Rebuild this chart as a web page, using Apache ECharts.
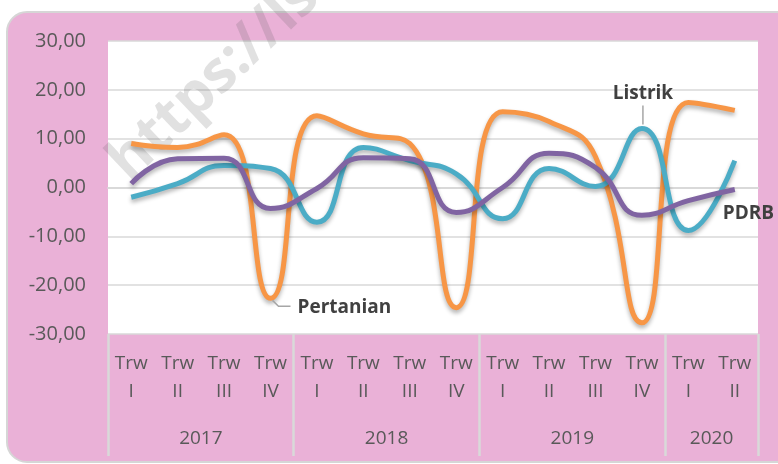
<!DOCTYPE html>
<html>
<head>
<meta charset="utf-8">
<script src="https://cdn.jsdelivr.net/npm/echarts@6/dist/echarts.min.js"></script>
<style>
  html, body { margin: 0; padding: 0; background: #fff; }
  #main { width: 778px; height: 464px; }
</style>
</head>
<body>
<div id="main"></div>
<script>
// data
const quarters = ['I', 'II', 'III', 'IV', 'I', 'II', 'III', 'IV', 'I', 'II', 'III', 'IV', 'I', 'II'];
const years = ['2017', '2018', '2019', '2020'];
const quartersPerYear = [4, 4, 4, 2];
const yTicks = [-30, -20, -10, 0, 10, 20, 30];

const pertanian = [9.0, 8.2, 10.8, -22.7, 14.7, 11.0, 9.0, -24.6, 15.5, 13.5, 6.3, -27.7, 17.4, 15.8];
const listrik = [-2.0, 0.8, 4.5, 3.9, -7.1, 8.2, 5.5, 2.8, -6.4, 3.9, 0.2, 12.1, -8.8, 5.5];
const pdrb = [0.8, 5.9, 6.0, -4.3, -0.2, 6.1, 5.9, -5.1, 0.0, 7.0, 4.1, -5.7, -2.7, -0.4];

const FONT = '"Open Sans", "Noto Sans", sans-serif';
const TEXT = '#595959';
const GRIDLINE = '#d9d9d9';

// year group boundaries and centers on a 0..14 value axis
const yearEdges = [0];
const yearCenters = [];
quartersPerYear.forEach(function (n) {
    const start = yearEdges[yearEdges.length - 1];
    yearCenters.push(start + n / 2);
    yearEdges.push(start + n);
});

const chart = echarts.init(document.getElementById('main'));

function lineSeries(name, data, color) {
    return {
        name: name,
        type: 'line',
        data: data,
        smooth: 0.5,
        showSymbol: false,
        lineStyle: {
            color: color,
            width: 5,
            shadowColor: 'rgba(0,0,0,0.3)',
            shadowBlur: 4,
            shadowOffsetY: 3
        },
        itemStyle: { color: color }
    };
}

const card = {
    type: 'rect',
    z: -10,
    shape: { x: 7, y: 12, width: 790, height: 450, r: 20 },
    style: { fill: '#eab1d7', stroke: '#d6d6d6', lineWidth: 2 }
};

const optionData = {
    animation: false,
    graphic: [card],
    grid: {
        left: 108,
        right: 20,
        top: 41,
        bottom: 130,
        show: true,
        backgroundColor: '#fff',
        borderWidth: 0
    },
    xAxis: [
        {
            type: 'category',
            data: quarters.map(function (q) { return 'Trw\n' + q; }),
            boundaryGap: true,
            axisLine: { lineStyle: { color: GRIDLINE, width: 2 } },
            axisTick: { show: false },
            axisLabel: {
                interval: 0,
                margin: 16,
                fontFamily: FONT,
                fontSize: 19,
                lineHeight: 28,
                color: TEXT
            }
        },
        {
            type: 'value',
            position: 'bottom',
            min: 0,
            max: quarters.length,
            axisLine: { show: false },
            splitLine: { show: false },
            axisTick: {
                show: true,
                length: 122,
                customValues: yearEdges,
                lineStyle: { color: GRIDLINE, width: 2.5 }
            },
            axisLabel: {
                margin: 95,
                customValues: yearCenters,
                fontFamily: FONT,
                fontSize: 19,
                color: TEXT,
                formatter: function (v) {
                    return years[yearCenters.indexOf(v)];
                }
            }
        }
    ],
    yAxis: {
        type: 'value',
        min: yTicks[0],
        max: yTicks[yTicks.length - 1],
        interval: 10,
        axisLine: { show: false },
        axisTick: { show: false },
        splitLine: { lineStyle: { color: GRIDLINE, width: 1.5 } },
        axisLabel: {
            margin: 22,
            fontFamily: FONT,
            fontSize: 20,
            color: TEXT,
            formatter: function (v) { return v.toFixed(2).replace('.', ','); }
        }
    },
    series: [
        lineSeries('Pertanian', pertanian, '#f79646'),
        lineSeries('Listrik', listrik, '#4bacc6'),
        lineSeries('PDRB', pdrb, '#8064a2')
    ]
};

chart.setOption(optionData);

// series name labels with leader lines, placed from the data points
const labelStyle = { font: 'bold 19px ' + FONT, fill: '#404040' };
const leader = { stroke: '#a6a6a6', lineWidth: 1.5 };

const pL = chart.convertToPixel({ xAxisIndex: 0, yAxisIndex: 0 }, [11, listrik[11]]);
const pP = chart.convertToPixel({ xAxisIndex: 0, yAxisIndex: 0 }, [3, pertanian[3]]);
const pD = chart.convertToPixel({ xAxisIndex: 0, yAxisIndex: 0 }, [13, pdrb[13]]);

chart.setOption({
    graphic: [
        card,
        {
            type: 'text', z: 50, x: pL[0] + 1, y: pL[1] - 35,
            style: Object.assign({ text: 'Listrik', align: 'center', verticalAlign: 'middle' }, labelStyle)
        },
        {
            type: 'line', z: 50,
            shape: { x1: pL[0] + 1, y1: pL[1] - 23, x2: pL[0] + 1, y2: pL[1] - 4 },
            style: leader
        },
        {
            type: 'text', z: 50, x: pP[0] + 27, y: pP[1] + 9,
            style: Object.assign({ text: 'Pertanian', align: 'left', verticalAlign: 'middle' }, labelStyle)
        },
        {
            type: 'polyline', z: 50,
            shape: { points: [[pP[0] + 2, pP[1] + 2], [pP[0] + 8, pP[1] + 8], [pP[0] + 20, pP[1] + 8]] },
            style: leader
        },
        {
            type: 'text', z: 50, x: pD[0] - 12, y: pD[1] + 24,
            style: Object.assign({ text: 'PDRB', align: 'left', verticalAlign: 'middle' }, labelStyle)
        },
        {
            // watermark
            type: 'text', z: 1, x: 138, y: 192, rotation: 0.76,
            style: {
                text: 'https://ls',
                font: 'bold 58px ' + FONT,
                fill: 'rgba(90,90,90,0.18)',
                align: 'left',
                verticalAlign: 'bottom'
            }
        }
    ]
});
</script>
</body>
</html>
